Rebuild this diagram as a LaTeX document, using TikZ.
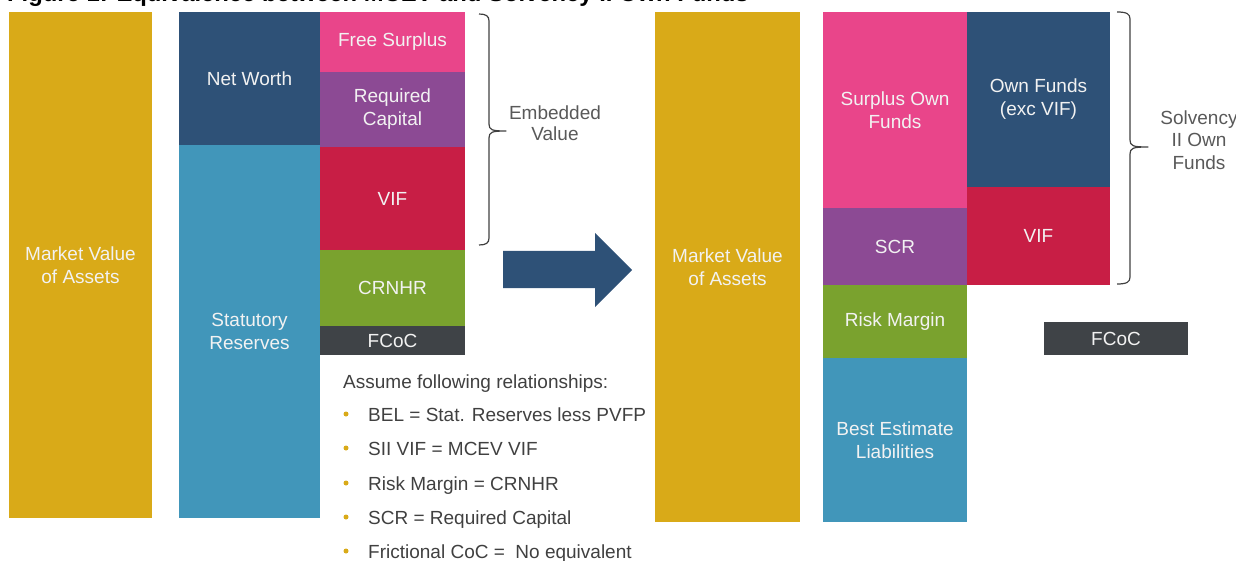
\documentclass[tikz,border=0pt]{standalone}
\usepackage{fontspec}
\setmainfont{Liberation Sans}
\definecolor{cgold}{HTML}{D9AA18}
\definecolor{cnavy}{HTML}{2E5177}
\definecolor{cteal}{HTML}{4196BA}
\definecolor{cpink}{HTML}{E9458A}
\definecolor{cpurple}{HTML}{8C4A94}
\definecolor{ccrimson}{HTML}{C81E45}
\definecolor{cgreen}{HTML}{7AA22E}
\definecolor{cdark}{HTML}{3F4347}
\definecolor{boxtxt}{HTML}{F2F2F2}
\definecolor{ctext}{HTML}{404040}
\definecolor{clabel}{HTML}{595959}
\newcommand\blk[7]{\node[blk, fill=#6, minimum width={#4-#2}, minimum height={#5-#3}] (#1) at ({(#2+#4)/2},{(#3+#5)/2}) {#7};}
% right brace: top-left x, vertical x, top y, tip y, bottom y, tip x
\newcommand\mybrace[6]{\draw[bracestyle] (#1,#3) .. controls ({#2-3},#3) and (#2,{#3+2}) .. (#2,{#3+7}) -- (#2,{#4-7}) .. controls (#2,{#4-1}) and ({#2+3},#4) .. (#6,#4) .. controls ({#2+3},#4) and (#2,{#4+1}) .. (#2,{#4+7}) -- (#2,{#5-7}) .. controls (#2,{#5-2}) and ({#2-3},#5) .. (#1,#5);}
\begin{document}
\begin{tikzpicture}[x=1pt,y=-1pt,
  blk/.style={draw=none, inner sep=0pt, outer sep=0pt, text=boxtxt, align=center, font=\fontsize{19}{23}\selectfont},
  lbl/.style={inner sep=0pt, text=clabel, align=center, font=\fontsize{19}{21}\selectfont},
  item/.style={inner sep=0pt, anchor=base west, text=ctext, font=\fontsize{19}{22}\selectfont},
  bracestyle/.style={draw=ctext, line width=1.2pt, line join=round}]
\useasboundingbox (0,0) rectangle (1236,561);
% title (cut off at top, as in the reference)
\node[inner sep=0pt, anchor=base west, font=\fontsize{23.8}{26}\selectfont\bfseries] (title) at (7,1.5) {Figure 1: Equivalence between MCEV and Solvency II Own Funds};
% left stack
\blk{mva1}{9}{12}{152}{518}{cgold}{Market Value\\of Assets}
\blk{nw}{179}{12}{320}{145}{cnavy}{Net Worth}
\blk{sr}{179}{145}{320}{518}{cteal}{Statutory\\Reserves}
\blk{fs}{320}{12}{465}{72}{cpink}{Free Surplus}
\blk{rc}{320}{72}{465}{147}{cpurple}{Required\\Capital}
\blk{vif1}{320}{147}{465}{250}{ccrimson}{VIF}
\blk{crnhr}{320}{250}{465}{326}{cgreen}{CRNHR}
\blk{fcoc1}{320}{326}{465}{355}{cdark}{FCoC}
% embedded value brace
\mybrace{479}{489}{14}{131}{245}{506}
\node[lbl] (evl) at (555,123) {Embedded\\Value};
% arrow
\fill[cnavy] (503,251) -- (595,251) -- (595,233) -- (632,270) -- (595,307) -- (595,288) -- (503,288) -- cycle;
% right stacks
\blk{mva2}{655}{12}{800}{522}{cgold}{Market Value\\of Assets}
\blk{sof}{823}{12}{967}{208}{cpink}{Surplus Own\\Funds}
\blk{scr}{823}{208}{967}{285}{cpurple}{SCR}
\blk{rm}{823}{285}{967}{358}{cgreen}{Risk Margin}
\blk{bel}{823}{358}{967}{522}{cteal}{Best Estimate\\Liabilities}
\blk{of}{967}{12}{1110}{187}{cnavy}{Own Funds\\(exc VIF)}
\blk{vif2}{967}{187}{1110}{285}{ccrimson}{VIF}
\blk{fcoc2}{1044}{322}{1188}{355}{cdark}{FCoC}
% solvency II brace
\mybrace{1117}{1130}{12}{147}{284}{1148}
\node[lbl, font=\fontsize{19}{22.5}\selectfont] (sol) at (1199,140) {Solvency\\II Own\\Funds};
% relationships
\node[item] (hd) at (343,388) {Assume following relationships:};
\foreach \yy/\tt [count=\i] in {414/{BEL = Stat. Reserves less PVFP}, 448/{SII VIF = MCEV VIF}, 483/{Risk Margin = CRNHR}, 517/{SCR = Required Capital}, 551/{Frictional CoC =\ \ No equivalent}}{
  \fill[cgold] (346,\yy) circle (2.5);
  \node[item] (it\i) at (368,\yy+7) {\tt};
}
\end{tikzpicture}
\end{document}
